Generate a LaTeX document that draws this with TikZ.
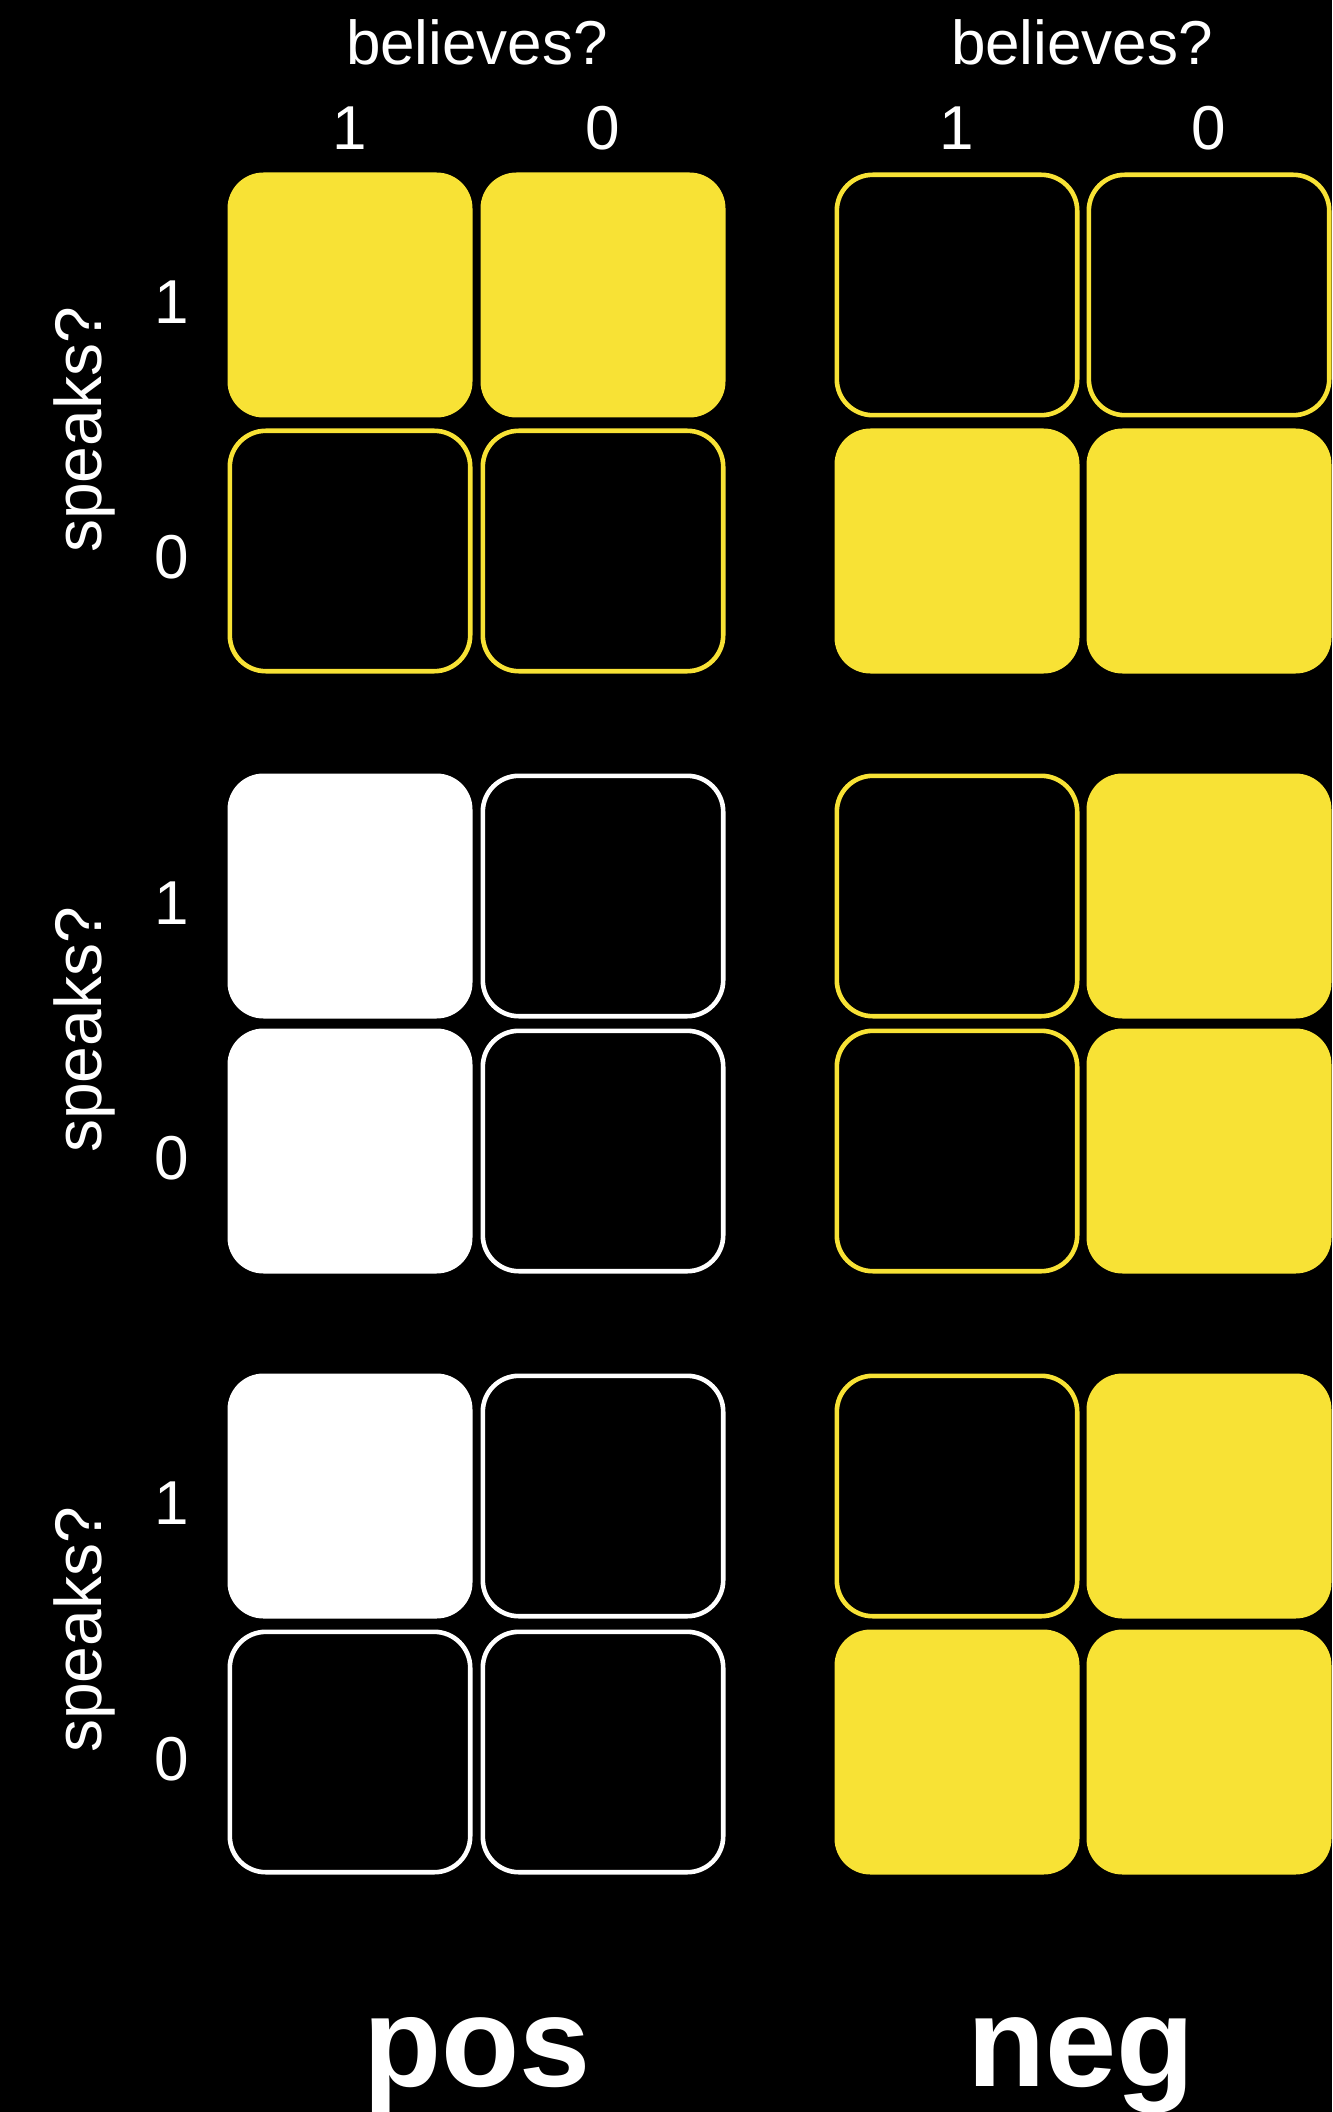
\documentclass[tikz,border=0pt]{standalone}
\usepackage{fontspec}
\setmainfont{Liberation Sans}
\usetikzlibrary{positioning}
\definecolor{cellyellow}{HTML}{F8E235}

\tikzset{
  cell/.style={rectangle, rounded corners=18pt, inner sep=0pt},
  yfill/.style={cell, fill=cellyellow, minimum size=122.5pt},
  yline/.style={cell, draw=cellyellow, line width=2.3pt, minimum size=120.2pt},
  wfill/.style={cell, fill=white, minimum size=122.5pt},
  wline/.style={cell, draw=white, line width=2.3pt, minimum size=120.2pt},
  lbl/.style={text=white, inner sep=0pt, font=\fontsize{31}{36}\selectfont},
  big/.style={text=white, inner sep=0pt, font=\bfseries\fontsize{64}{70}\selectfont}
}

\begin{document}
\begin{tikzpicture}[x=0.5pt, y=-0.5pt]
  \fill[black] (0,0) rectangle (1332,2112);
  \useasboundingbox (0,0) rectangle (1332,2112);

  % column headings
  \node[lbl] (bpos) at (477,42) {believes?};
  \node[lbl] (bneg) at (1082,42) {believes?};
  \foreach \cx/\t [count=\i] in {350/1, 603/0, 957/1, 1209/0}
    \node[lbl] (col\i) at (\cx,128) {\t};

  % row headings
  \foreach \cy [count=\i] in {430, 1030, 1630}
    \node[lbl, rotate=90, font=\fontsize{33}{38}\selectfont] (spk\i) at (84,\cy) {speaks?};
  \foreach \cy/\t [count=\i] in {302/1, 557/0, 903/1, 1158/0, 1503/1, 1759/0}
    \node[lbl] (row\i) at (172,\cy) {\t};

  % cells
  \foreach \nm/\cx/\cy/\st in {
      pA11/350/295/yfill,  pA12/603/295/yfill,  pA21/350/551/yline,  pA22/603/551/yline,
      nA11/957/295/yline,  nA12/1209/295/yline, nA21/957/551/yfill,  nA22/1209/551/yfill,
      pB11/350/896/wfill,  pB12/603/896/wline,  pB21/350/1151/wfill, pB22/603/1151/wline,
      nB11/957/896/yline,  nB12/1209/896/yfill, nB21/957/1151/yline, nB22/1209/1151/yfill,
      pC11/350/1496/wfill, pC12/603/1496/wline, pC21/350/1752/wline, pC22/603/1752/wline,
      nC11/957/1496/yline, nC12/1209/1496/yfill, nC21/957/1752/yfill, nC22/1209/1752/yfill}
    \node[\st] (\nm) at (\cx,\cy) {};

  % panel names
  \node[big, anchor=base] (pos) at (477,2086) {pos};
  \node[big, anchor=base] (neg) at (1081,2086) {neg};
\end{tikzpicture}
\end{document}
